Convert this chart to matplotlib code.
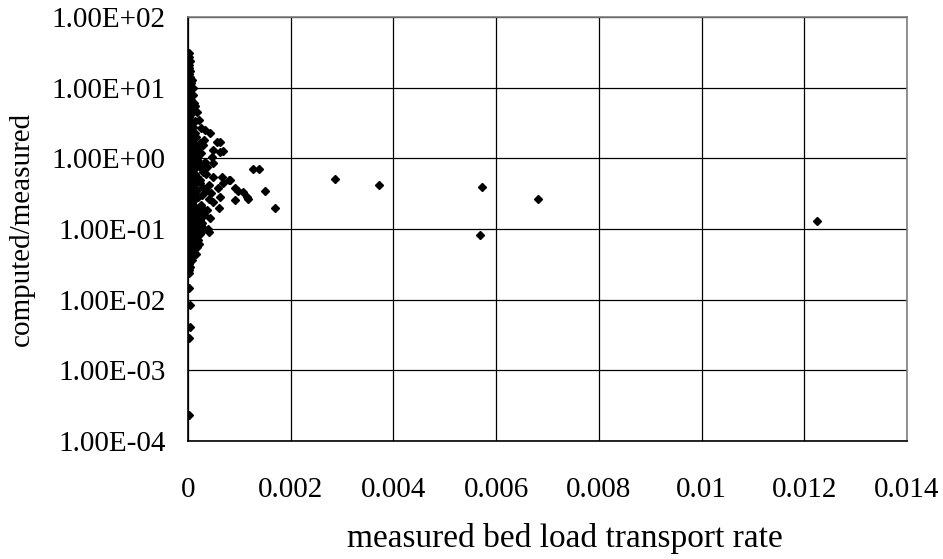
import matplotlib
matplotlib.use("Agg")
import matplotlib.pyplot as plt
from matplotlib.ticker import FixedLocator, FuncFormatter, NullLocator

# measured bed load transport rate (x) vs computed/measured ratio (y)
col_x = [0.00002, 0.00001, 0.00003, 0.00002, 0.00001, 0.00004, 0.00002, 0.00003, 0.00001, 0.00005,
         0.00002, 0.00004, 0.00001, 0.00006, 0.00003, 0.00005, 0.00002, 0.00005, 0.00001, 0.00003,
         0.00006, 0.00002, 0.00004, 0.00001, 0.00003, 0.00005, 0.00002, 0.00004, 0.00001, 0.00006,
         0.00003, 0.00002, 0.00005, 0.00001, 0.00004, 0.00002, 0.00003, 0.00006, 0.00001, 0.00004,
         0.00002, 0.00005, 0.00003, 0.00001, 0.00004, 0.00002, 0.00006, 0.00003, 0.00001, 0.00005,
         0.00002, 0.00004, 0.00001, 0.00003, 0.00006, 0.00002, 0.00004, 0.00001, 0.00003, 0.00005,
         0.00002, 0.00004, 0.00001, 0.00003, 0.00005, 0.00002, 0.00004, 0.00001, 0.00003, 0.00002,
         0.00004, 0.00001, 0.00003, 0.00002, 0.00001, 0.00003, 0.00002, 0.00001]
col_y = [31, 27, 24, 21, 19, 17, 15.5, 14, 12.5, 11.5,
         10.5, 9.5, 8.7, 8.0, 7.3, 6.6, 6.0, 5.5, 5.0, 4.6,
         4.2, 3.8, 3.5, 3.2, 2.9, 2.6, 2.4, 2.2, 2.0, 1.85,
         1.7, 1.55, 1.4, 1.3, 1.2, 1.1, 1.0, 0.92, 0.85, 0.78,
         0.72, 0.66, 0.60, 0.55, 0.50, 0.46, 0.42, 0.38, 0.35, 0.32,
         0.29, 0.26, 0.24, 0.22, 0.20, 0.18, 0.165, 0.15, 0.135, 0.12,
         0.11, 0.10, 0.092, 0.085, 0.078, 0.072, 0.066, 0.060, 0.055, 0.050,
         0.046, 0.042, 0.038, 0.035, 0.032, 0.029, 0.026, 0.024]

mid_x = [0.00009, 0.00011, 0.00008, 0.00013, 0.00010, 0.00014, 0.00009, 0.00012, 0.00015, 0.00010,
         0.00013, 0.00008, 0.00011, 0.00014, 0.00009, 0.00012, 0.00015, 0.00010, 0.00013, 0.00008,
         0.00012, 0.00014, 0.00010, 0.00013, 0.00009, 0.00012, 0.00010, 0.00011, 0.00008, 0.00010,
         0.00009, 0.00008, 0.00007,
         0.00016, 0.00019, 0.00017, 0.00021, 0.00018, 0.00023, 0.00016, 0.00020, 0.00025, 0.00015,
         0.00019, 0.00028, 0.00031, 0.00015, 0.00014, 0.00016, 0.00032, 0.00034, 0.00036, 0.00041,
         0.00027, 0.00031, 0.00018, 0.00013, 0.00010, 0.00007]
mid_y = [8.0, 6.0, 4.5, 3.4, 2.8, 2.3, 1.9, 1.6, 1.35, 1.15,
         0.97, 0.82, 0.70, 0.60, 0.50, 0.43, 0.37, 0.31, 0.27, 0.23,
         0.19, 0.16, 0.14, 0.12, 0.105, 0.090, 0.080, 0.070, 0.062, 0.054,
         0.047, 0.041, 0.036,
         2.0, 1.4, 1.0, 0.90, 0.55, 0.50, 0.35, 0.28, 0.22, 0.20,
         0.14, 0.12, 0.10, 0.085, 0.060, 0.045, 0.16, 0.90, 0.35, 0.27,
         0.70, 1.8, 4.5, 5.5, 10.0, 13.0]

spread_x = [0.00021, 0.00025, 0.00029, 0.00023, 0.00026, 0.00022, 0.00030, 0.00024, 0.00028, 0.00023,
            0.00026, 0.00020, 0.00024, 0.00019, 0.00022, 0.00017, 0.00018, 0.00020, 0.00027, 0.00030,
            0.00033, 0.00043, 0.00049, 0.00047, 0.00049, 0.00037, 0.00049, 0.00049, 0.00037, 0.00043,
            0.00040, 0.00045, 0.00038, 0.00035, 0.00040,
            0.00056, 0.00062, 0.00062, 0.00068, 0.00066, 0.00068, 0.00062, 0.00058, 0.00060,
            0.00080, 0.00082, 0.00092, 0.00097, 0.00107, 0.00115, 0.00092, 0.00117, 0.00127, 0.00138,
            0.00150, 0.00170]
spread_y = [3.5, 2.7, 1.55, 1.65, 1.2, 0.80, 0.65, 0.45, 0.30, 0.134,
            0.11, 0.095, 0.085, 0.070, 0.062, 0.055, 0.105, 0.17, 0.20, 0.38,
            2.5, 2.3, 1.31, 1.03, 0.86, 0.76, 0.55, 0.24, 0.186, 0.145,
            0.42, 0.32, 0.10, 0.60, 0.09,
            1.7, 1.7, 1.22, 1.25, 0.55, 0.45, 0.28, 0.38, 0.20,
            0.49, 0.49, 0.38, 0.34, 0.33, 0.28, 0.26, 0.266, 0.71, 0.71,
            0.34, 0.20]

far_x = [0.00286, 0.00372, 0.00572, 0.00569, 0.00681, 0.01225]
far_y = [0.51, 0.42, 0.39, 0.082, 0.266, 0.13]

low_x = [0.00002, 0.00003, 0.00003, 0.00002, 0.00002]
low_y = [0.0146, 0.0084, 0.0041, 0.0029, 0.00023]

x_ticks = [0, 0.002, 0.004, 0.006, 0.008, 0.01, 0.012, 0.014]
x_labels = ["0", "0.002", "0.004", "0.006", "0.008", "0.01", "0.012", "0.014"]
y_ticks = [1e-4, 1e-3, 1e-2, 1e-1, 1e0, 1e1, 1e2]

xs = col_x + mid_x + spread_x + far_x + low_x
ys = col_y + mid_y + spread_y + far_y + low_y

plt.rcParams["font.family"] = ["Liberation Serif", "DejaVu Serif"]

fig = plt.figure(figsize=(9.43, 5.59), dpi=100)
ax = fig.add_axes([188 / 943, 1 - 441 / 559, 719 / 943, 424 / 559])

ax.plot(xs, ys, linestyle="none", marker="D", markersize=4.5, color="black", zorder=3)

ax.set_yscale("log")
ax.set_xlim(0, 0.014)
ax.set_ylim(1e-4, 1e2)
ax.xaxis.set_major_locator(FixedLocator(x_ticks))
ax.set_xticklabels(x_labels)
ax.yaxis.set_major_locator(FixedLocator(y_ticks))
ax.yaxis.set_minor_locator(NullLocator())
ax.yaxis.set_major_formatter(FuncFormatter(lambda v, p: "%.2E" % v))

ax.grid(True, color="black", linewidth=0.9)
ax.tick_params(axis="both", which="major", length=0, labelsize=21)
ax.tick_params(axis="x", pad=26)
ax.tick_params(axis="y", pad=16)
for s in ax.spines.values():
    s.set_color("#808080")
    s.set_linewidth(1.2)
ax.spines["left"].set_color("black")
ax.spines["bottom"].set_color("black")

fig.text(565 / 943, 1 - 538 / 559, "measured bed load transport rate", fontsize=24,
         ha="center", va="center")
fig.text(22 / 943, 1 - 229 / 559, "computed/measured", fontsize=21,
         rotation=90, ha="center", va="center")

fig.savefig("out.png", dpi=100)
